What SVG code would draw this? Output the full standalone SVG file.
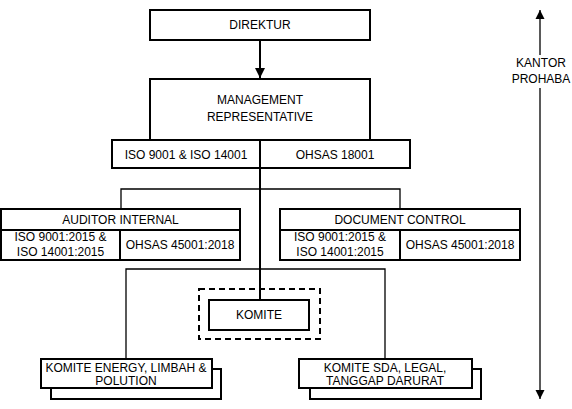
<svg xmlns="http://www.w3.org/2000/svg" width="572" height="409" viewBox="0 0 572 409">
<style>
  .box { fill: #ffffff; stroke: #000000; stroke-width: 2; }
  .dash { fill: none; stroke: #000000; stroke-width: 2; stroke-dasharray: 6 4; }
  .ln { fill: none; stroke: #000000; stroke-width: 1.3; }
  .thick { fill: none; stroke: #000000; stroke-width: 2; }
  text { font-family: "Liberation Sans", Arial, sans-serif; font-size: 12px; fill: #000000; text-anchor: middle; }
</style>
<defs>
  <marker id="ah" viewBox="0 0 10 10" refX="10" refY="5" markerWidth="10" markerHeight="10" markerUnits="userSpaceOnUse" orient="auto">
    <path d="M0,0 L10,5 L0,10 Z" fill="#000000"/>
  </marker>
  <marker id="ah2" viewBox="0 0 10 10" refX="10" refY="5" markerWidth="9" markerHeight="10" markerUnits="userSpaceOnUse" orient="auto">
    <path d="M0,0 L10,5 L0,10 Z" fill="#000000"/>
  </marker>
</defs>
<rect width="572" height="409" fill="#ffffff"/>
<g id="connectors">
  <line class="thick" x1="260" y1="40" x2="260" y2="78" marker-end="url(#ah)"/>
  <line class="thick" x1="260" y1="140" x2="260" y2="300"/>
  <polyline class="ln" points="121,209 121,189 400,189 400,209"/>
  <polyline class="ln" points="126,359 126,269 385,269 385,359"/>
  <line class="ln" x1="540" y1="55" x2="540" y2="10" marker-end="url(#ah2)"/>
  <line class="ln" x1="540" y1="88" x2="540" y2="399" marker-end="url(#ah2)"/>
</g>
<g id="direktur">
  <rect class="box" x="150" y="10" width="220" height="30"/>
  <text x="260" y="29">DIREKTUR</text>
</g>
<g id="management-representative">
  <rect class="box" x="150" y="79" width="220" height="61"/>
  <text x="260" y="104">MANAGEMENT</text>
  <text x="260" y="121">REPRESENTATIVE</text>
</g>
<g id="mr-standards">
  <rect class="box" x="112" y="140" width="148" height="28"/>
  <rect class="box" x="260" y="140" width="150" height="28"/>
  <text x="186" y="159">ISO 9001 &amp; ISO 14001</text>
  <text x="335" y="159">OHSAS 18001</text>
</g>
<g id="auditor-internal">
  <rect class="box" x="1" y="209" width="239" height="21"/>
  <rect class="box" x="1" y="230" width="119" height="30"/>
  <rect class="box" x="120" y="230" width="120" height="30"/>
  <text x="120.5" y="224">AUDITOR INTERNAL</text>
  <text x="60.5" y="241">ISO 9001:2015 &amp;</text>
  <text x="60.5" y="256">ISO 14001:2015</text>
  <text x="180" y="249">OHSAS 45001:2018</text>
</g>
<g id="document-control">
  <rect class="box" x="280" y="209" width="240" height="21"/>
  <rect class="box" x="280" y="230" width="120" height="30"/>
  <rect class="box" x="400" y="230" width="120" height="30"/>
  <text x="400" y="224">DOCUMENT CONTROL</text>
  <text x="340" y="241">ISO 9001:2015 &amp;</text>
  <text x="340" y="256">ISO 14001:2015</text>
  <text x="460" y="249">OHSAS 45001:2018</text>
</g>
<g id="komite">
  <rect class="dash" x="199" y="289" width="121" height="50"/>
  <rect class="box" x="209" y="300" width="100" height="30"/>
  <text x="259" y="319">KOMITE</text>
</g>
<g id="komite-energy">
  <rect class="box" x="51" y="369" width="170" height="30"/>
  <rect class="box" x="41" y="359" width="171" height="29"/>
  <text x="126" y="372">KOMITE ENERGY, LIMBAH &amp;</text>
  <text x="126" y="385">POLUTION</text>
</g>
<g id="komite-sda">
  <rect class="box" x="310" y="369" width="171" height="30"/>
  <rect class="box" x="299" y="359" width="173" height="29"/>
  <text x="385" y="372">KOMITE SDA, LEGAL,</text>
  <text x="385" y="385">TANGGAP DARURAT</text>
</g>
<g id="kantor-prohaba">
  <text x="541" y="67">KANTOR</text>
  <text x="541" y="83">PROHABA</text>
</g>
</svg>
